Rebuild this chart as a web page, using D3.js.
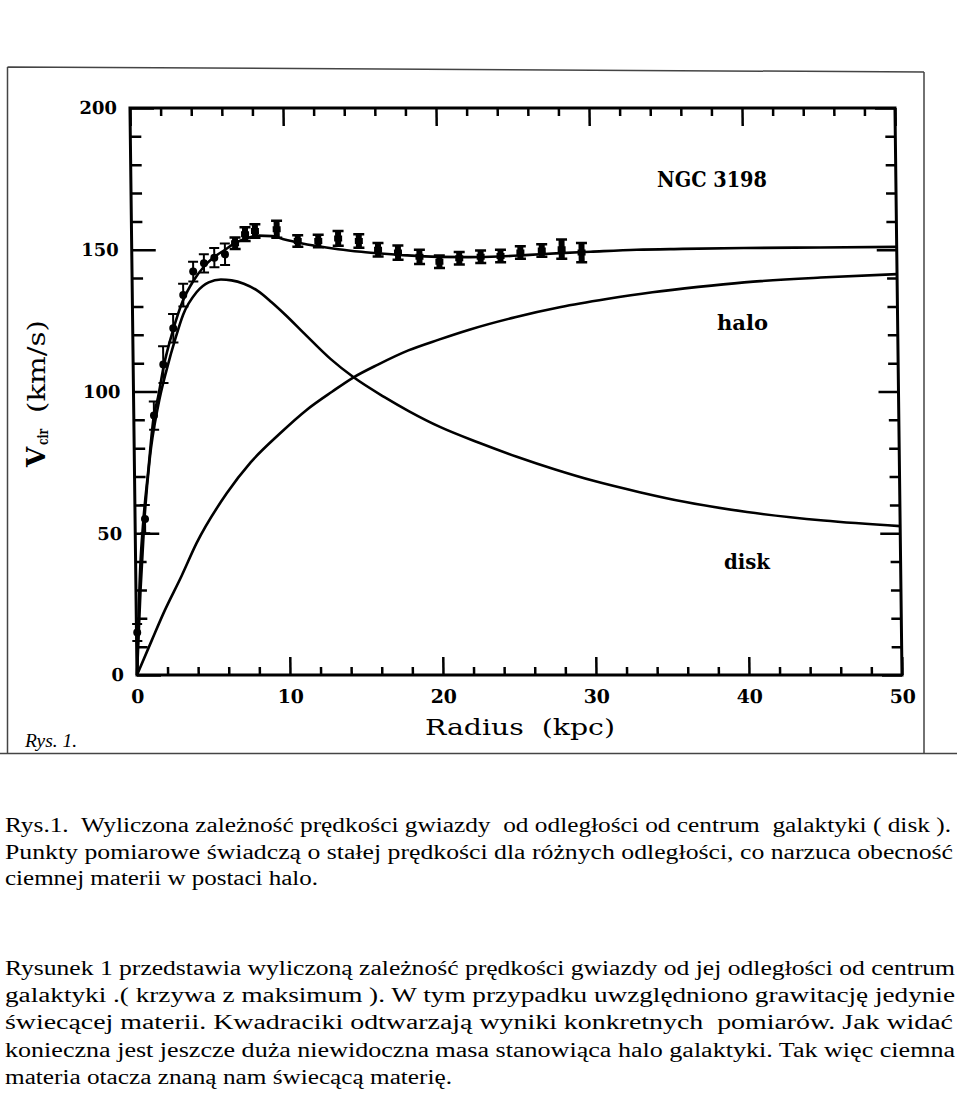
<!DOCTYPE html>
<html><head><meta charset="utf-8">
<script src="https://cdn.jsdelivr.net/npm/d3@7"></script>
<style>body{margin:0;background:#fff} svg{display:block}</style>
</head><body>
<svg id="c" width="960" height="1101"></svg>
<script>
// ---- data ----
const obsRadius = [0.05, 0.65, 1.32, 1.97, 2.65, 3.33, 4.0, 4.71, 5.39, 6.09, 6.76, 7.42, 8.07, 9.49, 10.86, 12.2, 13.5, 14.85, 16.1, 17.4, 18.8, 20.1, 21.4, 22.8, 24.1, 25.4, 26.8, 28.1, 29.4];
const obsVel    = [15, 55, 91.5, 109.5, 122.3, 134, 142.3, 145.2, 147.2, 148.4, 152.3, 155.5, 156.6, 157.2, 153.1, 153.1, 154, 153.1, 150, 149, 147.5, 145.8, 147, 147.5, 147.8, 149, 149.7, 150.2, 149];
const obsErr    = [3, 5, 5, 6.5, 5, 4, 3.5, 3.2, 3.4, 3.8, 2, 2.4, 2.4, 3, 2, 2.2, 2.6, 2.4, 2.4, 2.5, 2.5, 2.2, 2.2, 2.2, 2.2, 2.2, 2.2, 3.4, 3.4];

const totalRadius = [0, 0.3, 0.55, 0.9, 1.3, 1.6, 2, 2.6, 3.3, 4, 4.7, 5.4, 6.1, 6.8, 7.5, 8.3, 9.2, 10, 11, 12, 13.5, 15, 16.5, 18, 20, 22, 24, 26, 28, 30, 33, 36, 40, 45, 50];
const totalVel    = [0, 38, 55, 72, 91, 98, 109, 121, 132, 139, 144, 147.5, 150, 152.5, 154, 155, 154.8, 153.6, 152.4, 151.4, 150.2, 149.3, 148.6, 148, 147.5, 147.4, 147.6, 148.2, 148.8, 149.3, 150, 150.3, 150.6, 150.8, 151];

const diskRadius = [0, 0.3, 0.6, 1, 1.6, 2.2, 2.8, 3.3, 4.2, 5, 5.8, 6.5, 7.3, 8.2, 9.1, 10, 11.2, 12.9, 14.4, 16.4, 18, 20, 22.5, 25, 27.5, 30, 33, 36, 40, 45, 50];
const diskVel    = [0, 30, 54, 76, 95, 108, 119, 127, 135, 138.5, 139.5, 139.2, 138, 135.5, 131.5, 127, 120.5, 111.5, 105, 98, 93, 87.5, 82, 77, 72.5, 68.5, 64.5, 61, 57.5, 54.5, 52.5];

const haloRadius = [0, 1, 1.8, 3, 4, 6, 7.6, 9.5, 11.3, 13, 14.4, 16, 18, 20, 22, 25, 28, 31, 34, 37, 40, 45, 50];
const haloVel    = [0, 12.3, 22, 35, 46.5, 64, 75, 85, 93.5, 100, 105, 109.5, 114.5, 118.3, 121.8, 126.2, 129.8, 132.6, 135, 136.9, 138.5, 140.2, 141.4];

const xMajorTicks = [0, 10, 20, 30, 40, 50];
const xMinorTicks = [2, 4, 6, 8, 12, 14, 16, 18, 22, 24, 26, 28, 32, 34, 36, 38, 42, 44, 46, 48];
const yMajorTicks = [0, 50, 100, 150, 200];
const yMinorTicks = [10, 20, 30, 40, 60, 70, 80, 90, 110, 120, 130, 140, 160, 170, 180, 190];

const captionLines = [
  "Rys.1.  Wyliczona zależność prędkości gwiazdy  od odległości od centrum  galaktyki ( disk ).",
  "Punkty pomiarowe świadczą o stałej prędkości dla różnych odległości, co narzuca obecność",
  "ciemnej materii w postaci halo."
];
const paragraphLines = [
  "Rysunek 1 przedstawia wyliczoną zależność prędkości gwiazdy od jej odległości od centrum",
  "galaktyki .( krzywa z maksimum ). W tym przypadku uwzględniono grawitację jedynie",
  "świecącej materii. Kwadraciki odtwarzają wyniki konkretnych  pomiarów. Jak widać",
  "konieczna jest jeszcze duża niewidoczna masa stanowiąca halo galaktyki. Tak więc ciemna",
  "materia otacza znaną nam świecącą materię."
];

// ---- drawing ----
const svg = d3.select("#c");
const x = d3.scaleLinear().domain([0, 50]).range([137, 902]);
const y = d3.scaleLinear().domain([0, 200]).range([675, 108]);

// scanned page frame
svg.append("path")
  .attr("d", "M7.5,67 L924,72 M7.5,67 V753 M924,72 V753 M0,753.5 H957")
  .attr("fill", "none").attr("stroke", "#444").attr("stroke-width", 1.5);

const g = svg.append("g").attr("transform", "translate(0,675) skewX(0.71) translate(0,-675)");

const serif = "DejaVu Serif";
function styleAxis(sel, fs) {
  sel.select(".domain").remove();
  sel.attr("font-family", serif).attr("font-size", fs).attr("font-weight", "bold");
  sel.selectAll("line").attr("stroke", "#000").attr("stroke-width", 2.5);
  sel.selectAll("text").attr("fill", "#000");
}

// bottom
g.append("g").attr("transform", `translate(0,${y(0)})`)
  .call(d3.axisBottom(x).tickValues(xMajorTicks).tickSize(-18).tickPadding(15).tickFormat(d3.format("d")))
  .call(s => styleAxis(s, 19));
g.append("g").attr("transform", `translate(0,${y(0)})`)
  .call(d3.axisBottom(x).tickValues(xMinorTicks).tickSize(-8).tickFormat(""))
  .call(s => styleAxis(s, 19));
// top
g.append("g").attr("transform", `translate(0,${y(200)})`)
  .call(d3.axisTop(x).tickValues(xMajorTicks).tickSize(-18).tickFormat(""))
  .call(s => styleAxis(s, 19));
g.append("g").attr("transform", `translate(0,${y(200)})`)
  .call(d3.axisTop(x).tickValues(xMinorTicks).tickSize(-8).tickFormat(""))
  .call(s => styleAxis(s, 19));
// left
g.append("g").attr("transform", `translate(${x(0)},0)`)
  .call(d3.axisLeft(y).tickValues(yMajorTicks).tickSize(-24).tickPadding(13).tickFormat(d3.format("d")))
  .call(s => styleAxis(s, 18));
g.append("g").attr("transform", `translate(${x(0)},0)`)
  .call(d3.axisLeft(y).tickValues(yMinorTicks).tickSize(-11).tickFormat(""))
  .call(s => styleAxis(s, 18));
// right
g.append("g").attr("transform", `translate(${x(50)},0)`)
  .call(d3.axisRight(y).tickValues(yMajorTicks).tickSize(-20).tickFormat(""))
  .call(s => styleAxis(s, 18));
g.append("g").attr("transform", `translate(${x(50)},0)`)
  .call(d3.axisRight(y).tickValues(yMinorTicks).tickSize(-10).tickFormat(""))
  .call(s => styleAxis(s, 18));

// plot box
g.append("rect")
  .attr("x", x(0)).attr("y", y(200))
  .attr("width", x(50) - x(0)).attr("height", y(0) - y(200))
  .attr("fill", "none").attr("stroke", "#000").attr("stroke-width", 3);

// curves
const line = d3.line().x(d => x(d[0])).y(d => y(d[1])).curve(d3.curveMonotoneX);
const curves = [
  d3.zip(totalRadius, totalVel),
  d3.zip(diskRadius, diskVel),
  d3.zip(haloRadius, haloVel)
];
g.selectAll("path.curve").data(curves).join("path")
  .attr("class", "curve")
  .attr("d", line)
  .attr("fill", "none").attr("stroke", "#000").attr("stroke-width", 2.6)
  .attr("stroke-linejoin", "round");

// observations
const obs = obsRadius.map((r, i) => ({ r, v: obsVel[i], e: obsErr[i], round: r < 6.5 }));
const og = g.append("g");
obs.forEach(d => {
  const cx = x(d.r), top = y(d.v + d.e), bot = y(d.v - d.e), cy = y(d.v);
  if (d.round) {
    og.append("line").attr("x1", cx).attr("x2", cx).attr("y1", top).attr("y2", bot)
      .attr("stroke", "#000").attr("stroke-width", 2);
    [top, bot].forEach(yy => og.append("line").attr("x1", cx - 5).attr("x2", cx + 5)
      .attr("y1", yy).attr("y2", yy).attr("stroke", "#000").attr("stroke-width", 2));
    og.append("circle").attr("cx", cx).attr("cy", cy).attr("r", 4).attr("fill", "#000");
  } else {
    og.append("rect").attr("x", cx - 3).attr("y", top).attr("width", 6).attr("height", bot - top).attr("fill", "#000");
    og.append("rect").attr("x", cx - 4).attr("y", cy - 3).attr("width", 8).attr("height", 6).attr("fill", "#000");
    [top, bot].forEach(yy => og.append("line").attr("x1", cx - 5.5).attr("x2", cx + 5.5)
      .attr("y1", yy).attr("y2", yy).attr("stroke", "#000").attr("stroke-width", 2.5));
  }
});

// chart texts
function label(txt, xx, yy, fs, weight, len) {
  const t = svg.append("text").attr("x", xx).attr("y", yy)
    .attr("font-family", serif).attr("font-size", fs).attr("font-weight", weight)
    .attr("fill", "#000").style("white-space", "pre").text(txt);
  if (len) t.attr("textLength", len).attr("lengthAdjust", "spacingAndGlyphs");
  return t;
}
label("NGC 3198", 657, 187, 22, "bold", 110);
label("halo", 717, 330, 20, "bold", 51);
label("disk", 724, 569, 20, "bold", 46);
label("Radius  (kpc)", 425, 735, 22, "normal", 190);

const yl = svg.append("g").attr("transform", "translate(45,467) rotate(-90)");
yl.append("text").attr("x", 0).attr("y", 0).attr("font-family", serif).attr("font-size", 26)
  .attr("font-weight", "bold").text("V");
yl.append("text").attr("x", 22).attr("y", 3).attr("font-family", serif).attr("font-size", 14)
  .attr("font-weight", "bold").attr("textLength", 16).attr("lengthAdjust", "spacingAndGlyphs").text("cir");
yl.append("text").attr("x", 54).attr("y", 0).attr("font-family", serif).attr("font-size", 24)
  .attr("textLength", 93).attr("lengthAdjust", "spacingAndGlyphs").text("(km/s)");

svg.append("text").attr("x", 25).attr("y", 747)
  .attr("font-family", "Liberation Serif").attr("font-style", "italic").attr("font-size", 19)
  .attr("textLength", 52).attr("lengthAdjust", "spacingAndGlyphs").text("Rys. 1.");

// caption
const capWidths = [946, 948, 313];
const parWidths = [950, 950, 948, 950, 447];
function textBlock(lines, widths, y0, pitch) {
  lines.forEach((s, i) => {
    svg.append("text").attr("x", 5).attr("y", y0 + i * pitch)
      .attr("font-family", "Liberation Serif").attr("font-size", 20).attr("fill", "#000")
      .style("white-space", "pre")
      .attr("textLength", widths[i]).attr("lengthAdjust", "spacingAndGlyphs")
      .text(s);
  });
}
textBlock(captionLines, capWidths, 832, 26.7);
textBlock(paragraphLines, parWidths, 975, 27.2);
</script>
</body></html>
